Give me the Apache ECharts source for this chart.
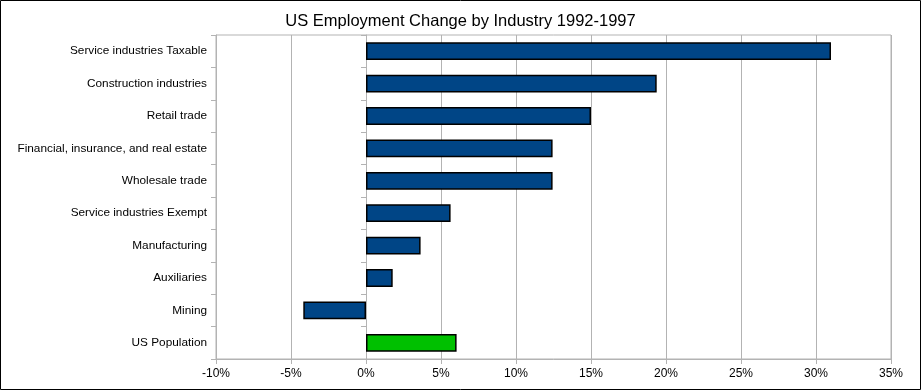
<!DOCTYPE html>
<html>
<head>
<meta charset="utf-8">
<script src="https://cdn.jsdelivr.net/npm/echarts@6/dist/echarts.min.js"></script>
<style>html,body{margin:0;padding:0;background:#fff}#c{width:921px;height:390px}</style>
</head>
<body>
<div id="c"></div>
<script>
const categories = ["US Population","Mining","Auxiliaries","Manufacturing","Service industries Exempt","Wholesale trade","Financial, insurance, and real estate","Retail trade","Construction industries","Service industries Taxable"];
const values = [6.04,-4.18,1.78,3.64,5.64,12.44,12.44,15.0,19.38,31.0];
const barColors = ["#00c000","#004586","#004586","#004586","#004586","#004586","#004586","#004586","#004586","#004586"];
const xTicks = {min:-10,max:35,interval:5};
const titleText = "US Employment Change by Industry 1992-1997";

const chart = echarts.init(document.getElementById('c'), null, {renderer:'canvas'});
const font = "'Liberation Sans', Arial, sans-serif";
chart.setOption({
  animation:false,
  backgroundColor:'#fff',
  title:{text:titleText,left:'center',top:8,textStyle:{fontFamily:font,fontSize:16.5,fontWeight:'normal',color:'#000'}},
  grid:{left:216,right:30,top:35,bottom:31,show:true,borderColor:'#b3b3b3',borderWidth:1},
  xAxis:{type:'value',min:xTicks.min,max:xTicks.max,interval:xTicks.interval,
    axisLine:{show:true,onZero:false,lineStyle:{color:'#b3b3b3'}},
    axisTick:{show:true,length:5,lineStyle:{color:'#b3b3b3'}},
    splitLine:{show:true,lineStyle:{color:'#b3b3b3'}},
    axisLabel:{formatter:'{value}%',color:'#000',fontFamily:font,fontSize:12,margin:9}},
  yAxis:[
    {type:'category',data:categories,position:'left',
     axisLine:{show:true,onZero:false,lineStyle:{color:'#b3b3b3'}},
     axisTick:{show:true,length:5,lineStyle:{color:'#b3b3b3'}},
     axisLabel:{color:'#000',fontFamily:font,fontSize:11.8,margin:9},
     splitLine:{show:false}},
    {type:'category',data:categories,position:'left',
     axisLine:{show:true,onZero:true,lineStyle:{color:'#b3b3b3'}},
     axisTick:{show:true,length:5,lineStyle:{color:'#b3b3b3'}},
     axisLabel:{show:false},splitLine:{show:false}}
  ],
  series:[{type:'bar',yAxisIndex:0,barWidth:'55%',
    data:values.map((v,i)=>({value:v,itemStyle:{color:barColors[i]}})),
    itemStyle:{borderColor:'#000',borderWidth:1.5}}],
  graphic:[{type:'rect',shape:{x:0.5,y:0.5,width:920,height:389},style:{fill:'none',stroke:'#000',lineWidth:1},z:100}]
});
</script>
</body>
</html>
